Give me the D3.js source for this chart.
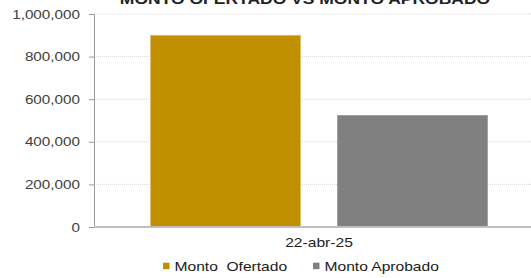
<!DOCTYPE html>
<html>
<head>
<meta charset="utf-8">
<script src="https://cdn.jsdelivr.net/npm/d3@7"></script>
<style>
  body { margin: 0; background: #fff; }
  text { font-family: "Liberation Sans", Arial, sans-serif; }
</style>
</head>
<body>
<div id="chart"></div>
<script>
var categories = ["22-abr-25"];
var seriesNames = ["Monto  Ofertado", "Monto Aprobado"];
var seriesColors = ["#c09000", "#808080"];
var montoOfertado = [900000];
var montoAprobado = [524000];
var yTicks = [0, 200000, 400000, 600000, 800000, 1000000];

var W = 531, H = 278;
var margin = {top: 14, right: -13, bottom: 51, left: 94};
var width = W - margin.left - margin.right,
    height = H - margin.top - margin.bottom;

// the original text looks stretched sideways
var SX = 1.22;

var svg = d3.select("#chart").append("svg")
    .attr("width", W).attr("height", H);

function stretchedText(parent, x, y, sx) {
    return parent.append("text")
        .attr("transform", "translate(" + x + "," + y + ") scale(" + sx + ",1)");
}

stretchedText(svg, 305, 3.5, 1.25)
    .attr("text-anchor", "middle")
    .style("font-size", "14px").style("font-weight", "bold")
    .attr("fill", "#222")
    .text("MONTO OFERTADO VS MONTO APROBADO");

var g = svg.append("g")
    .attr("transform", "translate(" + margin.left + "," + margin.top + ")");

var x0 = d3.scaleBand().domain(categories).range([0, width]).paddingInner(0).paddingOuter(0.168);
var x1 = d3.scaleBand().domain(seriesNames).range([0, x0.bandwidth()]).paddingInner(0.198).paddingOuter(0);
var y = d3.scaleLinear().domain([0, 1000000]).range([height, 0]);

// gridlines
g.append("g").selectAll("line")
    .data(yTicks.filter(function(d) { return d > 0; }))
    .enter().append("line")
    .attr("x1", 0).attr("x2", width)
    .attr("y1", function(d) { return y(d); })
    .attr("y2", function(d) { return y(d); })
    .attr("stroke", "#d9d9d9")
    .attr("stroke-dasharray", "1,1");

var rows = categories.map(function(c, i) {
    return [
        {name: seriesNames[0], value: montoOfertado[i], color: seriesColors[0]},
        {name: seriesNames[1], value: montoAprobado[i], color: seriesColors[1]}
    ];
});

var groups = g.selectAll(".grp").data(rows).enter().append("g")
    .attr("transform", function(d, i) { return "translate(" + x0(categories[i]) + ",0)"; });

groups.selectAll("rect").data(function(d) { return d; }).enter().append("rect")
    .attr("x", function(d) { return x1(d.name); })
    .attr("width", x1.bandwidth())
    .attr("y", function(d) { return y(d.value); })
    .attr("height", function(d) { return height - y(d.value); })
    .attr("fill", function(d) { return d.color; })
    .attr("stroke", function(d, i) { return i === 0 ? "#dcbf6a" : "#9a9a9a"; })
    .attr("stroke-width", 0.8);

// y axis
var yAxis = g.append("g")
    .call(d3.axisLeft(y).tickValues(yTicks).tickFormat(d3.format(",")).tickSize(5).tickPadding(9));
yAxis.select(".domain").attr("stroke", "#999");
yAxis.selectAll(".tick line").attr("stroke", "#999");
yAxis.selectAll(".tick text")
    .attr("fill", "#404040")
    .style("font-size", "12.5px")
    .attr("x", function() { return +d3.select(this).attr("x") / SX; })
    .attr("transform", "scale(" + SX + ",1)");

// baseline
g.append("line")
    .attr("x1", 0).attr("x2", width)
    .attr("y1", height).attr("y2", height)
    .attr("stroke", "#bfbfbf").attr("stroke-width", 2);

// x axis label
var xAxis = g.append("g")
    .attr("transform", "translate(0," + height + ")")
    .call(d3.axisBottom(x0).tickSize(0).tickPadding(0));
xAxis.select(".domain").remove();
xAxis.selectAll(".tick text")
    .attr("fill", "#222")
    .style("font-size", "12.5px")
    .attr("y", 20.5).attr("dy", null)
    .attr("transform", "scale(1.25,1)");

// legend
var legendX = [163, 313];
var legend = svg.append("g").selectAll("g").data(seriesNames).enter().append("g")
    .attr("transform", function(d, i) { return "translate(" + legendX[i] + ",266)"; });
legend.append("rect")
    .attr("x", 0).attr("y", -3.3).attr("width", 6.5).attr("height", 6.5)
    .attr("fill", function(d, i) { return seriesColors[i]; });
legend.append("text")
    .attr("transform", "translate(11.5,4.5) scale(1.2,1)")
    .attr("fill", "#1a1a1a")
    .style("font-size", "13px")
    .attr("xml:space", "preserve")
    .text(function(d) { return d; });
</script>
</body>
</html>
